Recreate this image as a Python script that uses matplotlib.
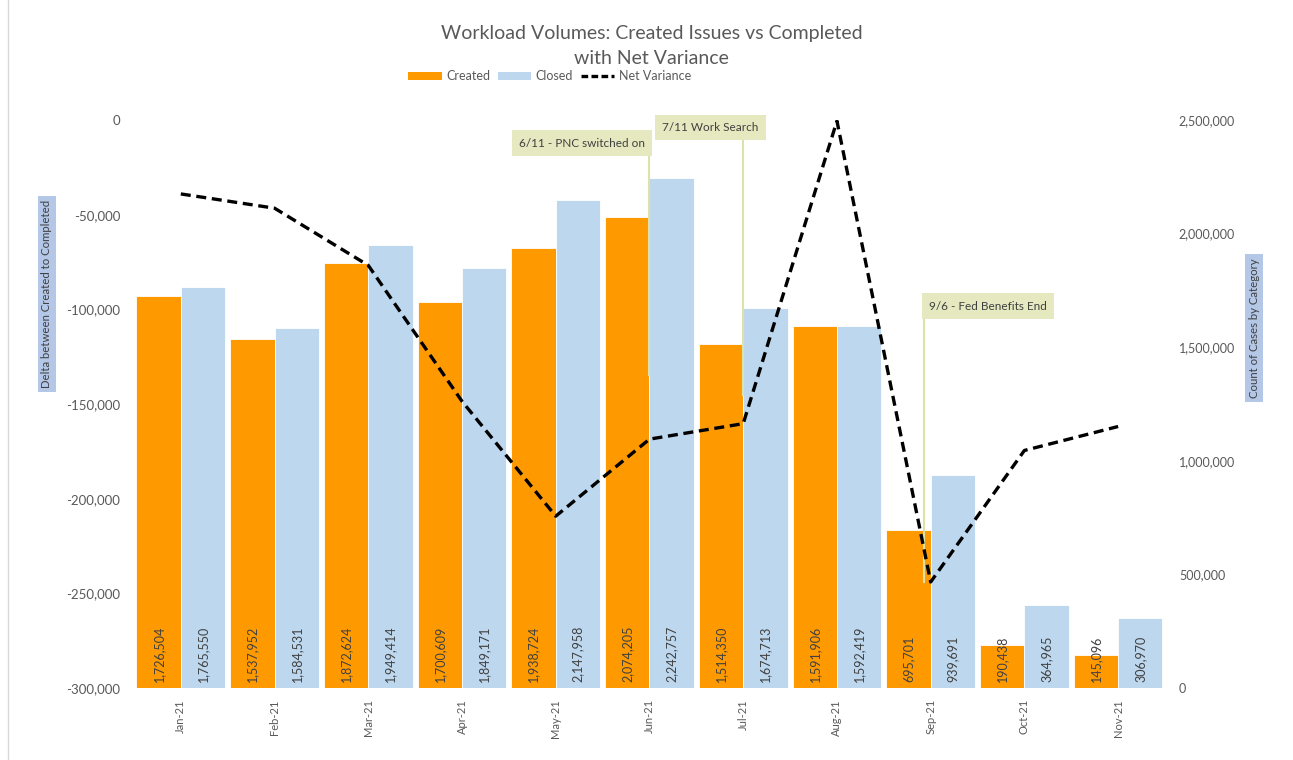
import matplotlib
matplotlib.use("Agg")
import matplotlib.pyplot as plt
from matplotlib.patches import Patch
from matplotlib.lines import Line2D
from matplotlib.ticker import FuncFormatter, MultipleLocator

plt.rcParams['font.family'] = ['Lato', 'DejaVu Sans']

months = ["Jan-21", "Feb-21", "Mar-21", "Apr-21", "May-21", "Jun-21",
          "Jul-21", "Aug-21", "Sep-21", "Oct-21", "Nov-21"]
created = [1726504, 1537952, 1872624, 1700609, 1938724, 2074205,
           1514350, 1591906, 695701, 190438, 145096]
closed = [1765550, 1584531, 1949414, 1849171, 2147958, 2242757,
          1674713, 1592419, 939691, 364965, 306970]
net_variance = [-39046, -46579, -76790, -148562, -209234, -168552,
                -160363, -513, -243990, -174527, -161874]

notes = ["6/11 - PNC switched on", "7/11 Work Search", "9/6 - Fed Benefits End"]

ORANGE = "#FF9900"
BLUE = "#BDD7EE"
TXT = "#595959"
DARK = "#404040"
NOTE_FILL = "#E6E9BF"
NOTE_LINE = "#DDE3A8"

fig = plt.figure(figsize=(12.93, 7.6), dpi=100)
ax = fig.add_axes([0.1036, 0.0947, 0.7974, 0.7474])  # bars, right axis
ax2 = ax.twinx()                                       # line, left axis

x = list(range(len(months)))
w = 0.473
ax.bar([i - w / 2 for i in x], created, width=w, color=ORANGE, edgecolor="white", linewidth=0.6, zorder=2)
ax.bar([i + w / 2 for i in x], closed, width=w, color=BLUE, edgecolor="white", linewidth=0.6, zorder=2)

for i in x:
    ax.text(i - w / 2, 25000, f"{created[i]:,}", rotation=90, ha="center", va="bottom",
            fontsize=9, color=DARK, zorder=3)
    ax.text(i + w / 2, 25000, f"{closed[i]:,}", rotation=90, ha="center", va="bottom",
            fontsize=9, color=DARK, zorder=3)

ax.set_ylim(0, 2500000)
ax.set_xlim(-0.5, 10.5)
ax.yaxis.set_major_locator(MultipleLocator(500000))
ax.yaxis.set_major_formatter(FuncFormatter(lambda v, p: f"{int(v):,}"))
ax.yaxis.tick_right()
ax.set_xticks(x)
ax.set_xticklabels(months, rotation=90, fontsize=8, color=TXT)
ax.tick_params(axis="both", length=0)
ax.tick_params(axis="y", labelsize=9, labelcolor=TXT, pad=10)
ax.tick_params(axis="x", pad=8)
for s in ax.spines.values():
    s.set_visible(False)

ax2.plot(x, net_variance, color="black", lw=2.4, linestyle=(0, (3, 1.7)), zorder=5)
ax2.set_ylim(-300000, 0)
ax2.yaxis.set_major_locator(MultipleLocator(50000))
ax2.yaxis.set_major_formatter(FuncFormatter(lambda v, p: f"{int(v):,}"))
ax2.yaxis.tick_left()
ax2.tick_params(axis="y", length=0, labelsize=9.5, labelcolor=TXT, pad=10)
for s in ax2.spines.values():
    s.set_visible(False)

# callout notes: (text, box x, box y, line x, line bottom y, line top y) in left-axis data coords
callouts = [
    (notes[0], 4.28, -12150, 5.0, -134700, -18000),
    (notes[1], 5.65, -3960, 6.0, -145000, -11000),
    (notes[2], 8.61, -98240, 7.93, -243990, -104000),
]
for txt, bx, by, lx, ly, ltop in callouts:
    ax2.plot([lx, lx], [ltop, ly], color=NOTE_LINE, lw=1.5, zorder=4, clip_on=False)
    ax2.text(bx, by, txt, ha="center", va="center", fontsize=8.5, color=DARK, zorder=6,
             clip_on=False,
             bbox=dict(boxstyle="square,pad=0.6", facecolor=NOTE_FILL, edgecolor="none"))

# titles
fig.text(0.504, 0.956, "Workload Volumes: Created Issues vs Completed", ha="center", va="center",
         fontsize=14, color=TXT)
fig.text(0.504, 0.923, "with Net Variance", ha="center", va="center", fontsize=14, color=TXT)

handles = [Patch(facecolor=ORANGE, edgecolor="none"), Patch(facecolor=BLUE, edgecolor="none"),
           Line2D([0], [0], color="black", lw=2.4, linestyle=(0, (2, 1)))]
fig.legend(handles, ["Created", "Closed", "Net Variance"], loc="center",
           bbox_to_anchor=(0.425, 0.9), ncol=3, frameon=False, fontsize=9,
           handlelength=2.7, handleheight=0.6, handletextpad=0.35, columnspacing=0.6,
           labelcolor=TXT)

# axis titles with shaded boxes
fig.text(47 / 1293, 1 - 294 / 760, "Delta between Created to Completed", rotation=90,
         ha="center", va="center", fontsize=8.2, color=DARK,
         bbox=dict(boxstyle="square,pad=0.35", facecolor="#B4C7E7", edgecolor="none"))
fig.text(1254 / 1293, 1 - 328 / 760, "Count of Cases by Category", rotation=90,
         ha="center", va="center", fontsize=8.2, color=DARK,
         bbox=dict(boxstyle="square,pad=0.35", facecolor="#B4C7E7", edgecolor="none"))

# chart border (left edge)
fig.add_artist(Line2D([8 / 1293, 8 / 1293], [0, 1], color="#D9D9D9", lw=1))

fig.savefig("out.png", dpi=100)
